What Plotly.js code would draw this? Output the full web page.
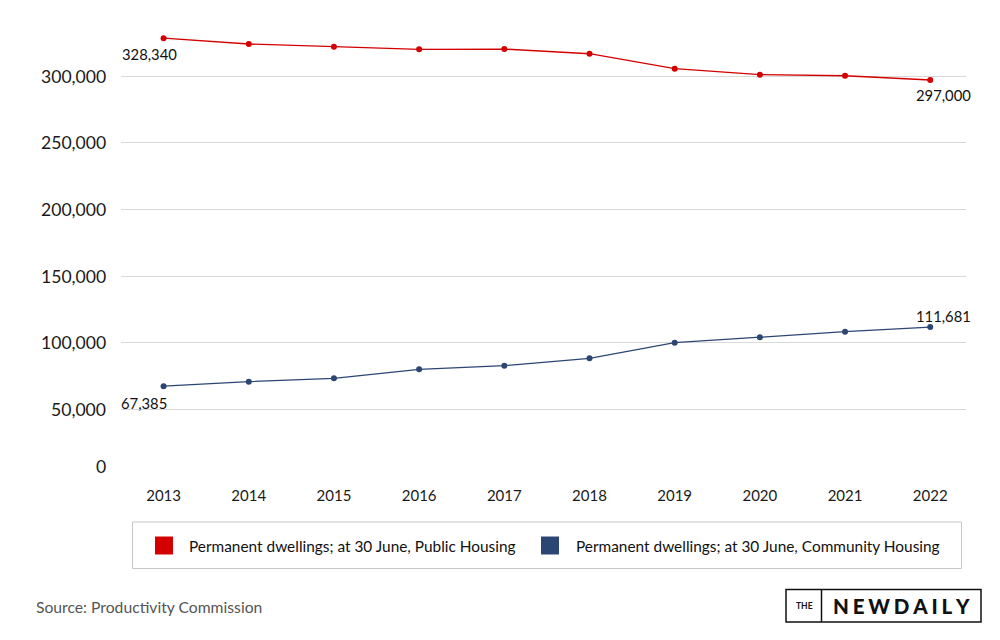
<!DOCTYPE html>
<html>
<head>
<meta charset="utf-8">
<script src="https://cdn.plot.ly/plotly-3.0.1.min.js"></script>
<style>html,body{margin:0;padding:0;background:#fff;}#chart{width:1000px;height:640px;}</style>
</head>
<body>
<div id="chart"></div>
<script>
const years = [2013, 2014, 2015, 2016, 2017, 2018, 2019, 2020, 2021, 2022];
const publicHousing = [328340, 324000, 322000, 320000, 320200, 316700, 305500, 301000, 300200, 297000];
const communityHousing = [67385, 70750, 73250, 80000, 82750, 88250, 100000, 104000, 108250, 111681];
const yTickVals = [0, 50000, 100000, 150000, 200000, 250000, 300000];
const yTickText = ['0', '50,000', '100,000', '150,000', '200,000', '250,000', '300,000'];
const seriesNames = ['Permanent dwellings; at 30 June, Public Housing', 'Permanent dwellings; at 30 June, Community Housing'];
const seriesColors = ['#d40000', '#2c4674'];
const sourceText = 'Source: Productivity Commission';

const FONT = 'Lato, "Open Sans", sans-serif';

const traces = [
  {x: years, y: publicHousing, type: 'scatter', mode: 'lines+markers', name: seriesNames[0],
   line: {color: seriesColors[0], width: 1.3}, marker: {color: seriesColors[0], size: 6}, showlegend: false, cliponaxis: false},
  {x: years, y: communityHousing, type: 'scatter', mode: 'lines+markers', name: seriesNames[1],
   line: {color: seriesColors[1], width: 1.3}, marker: {color: seriesColors[1], size: 6}, showlegend: false, cliponaxis: false}
];

const fmt = v => v.toLocaleString('en-US');
const annotations = [];
// y tick labels
yTickVals.forEach((v, i) => {
  annotations.push({xref: 'paper', yref: 'y', x: 0, y: v, xanchor: 'right', yanchor: 'middle',
    xshift: -13, yshift: v === 0 ? 10 : 0, showarrow: false, text: yTickText[i],
    font: {family: FONT, size: 17.6, color: '#1a1a1a'}});
});
// data labels at ends
const last = years.length - 1;
const lblFont = {family: FONT, size: 14.8, color: '#111'};
annotations.push({x: years[0], y: publicHousing[0], xref: 'x', yref: 'y', showarrow: false, text: fmt(publicHousing[0]),
  xshift: -14, yshift: -16, font: lblFont});
annotations.push({x: years[last], y: publicHousing[last], xref: 'x', yref: 'y', showarrow: false, text: fmt(publicHousing[last]),
  xshift: 13, yshift: -15, font: lblFont});
annotations.push({x: years[0], y: communityHousing[0], xref: 'x', yref: 'y', showarrow: false, text: fmt(communityHousing[0]),
  xshift: -20, yshift: -17, font: lblFont});
annotations.push({x: years[last], y: communityHousing[last], xref: 'x', yref: 'y', showarrow: false, text: fmt(communityHousing[last]),
  xshift: 13, yshift: 11, font: lblFont});

// pixel -> paper helpers (plot area: x 121..966, y 20..476)
const px = p => (p - 121) / 845;
const py = p => (476 - p) / 456;

// legend text
annotations.push({xref: 'paper', yref: 'paper', x: px(187), y: py(545.5), xanchor: 'left', yanchor: 'middle', showarrow: false,
  text: seriesNames[0], font: {family: FONT, size: 15.4, color: '#111'}});
annotations.push({xref: 'paper', yref: 'paper', x: px(574), y: py(545.5), xanchor: 'left', yanchor: 'middle', showarrow: false,
  text: seriesNames[1], font: {family: FONT, size: 15.4, color: '#111'}});
// source
annotations.push({xref: 'paper', yref: 'paper', x: px(34), y: py(606.5), xanchor: 'left', yanchor: 'middle', showarrow: false,
  text: sourceText, font: {family: FONT, size: 15.7, color: '#555'}});
// logo
annotations.push({xref: 'paper', yref: 'paper', x: px(804), y: py(605.5), xanchor: 'center', yanchor: 'middle', showarrow: false,
  text: 'THE', font: {family: FONT, size: 8.5, color: '#111', weight: 700}});
annotations.push({xref: 'paper', yref: 'paper', x: px(901.5), y: py(605.5), xanchor: 'center', yanchor: 'middle', showarrow: false,
  text: 'N\u2009\u200AE\u2009\u200AW\u2009\u200AD\u2009\u200AA\u2009\u200AI\u2009\u200AL\u2009\u200AY', font: {family: FONT, size: 20.5, color: '#111', weight: 900}});

const shapes = [
  {type: 'rect', xref: 'paper', yref: 'paper', x0: px(132.5), x1: px(961.5), y0: py(522), y1: py(568.5),
   line: {color: '#c8c8c8', width: 1}, fillcolor: 'rgba(0,0,0,0)'},
  {type: 'rect', xref: 'paper', yref: 'paper', x0: px(155), x1: px(173), y0: py(536.5), y1: py(554.5),
   line: {width: 0}, fillcolor: seriesColors[0]},
  {type: 'rect', xref: 'paper', yref: 'paper', x0: px(541), x1: px(559), y0: py(536.5), y1: py(554.5),
   line: {width: 0}, fillcolor: seriesColors[1]},
  {type: 'rect', xref: 'paper', yref: 'paper', x0: px(786), x1: px(981), y0: py(589.5), y1: py(622),
   line: {color: '#111', width: 1.5}, fillcolor: 'rgba(0,0,0,0)'},
  {type: 'line', xref: 'paper', yref: 'paper', x0: px(821.5), x1: px(821.5), y0: py(589.5), y1: py(622),
   line: {color: '#111', width: 1.5}}
];

const layout = {
  width: 1000, height: 640,
  margin: {l: 121, r: 34, t: 20, b: 164, pad: 0},
  paper_bgcolor: '#fff', plot_bgcolor: '#fff',
  font: {family: FONT, color: '#222'},
  showlegend: false,
  xaxis: {type: 'linear', range: [2012.5, 2022.42], tickvals: years, ticktext: years.map(String),
    showgrid: false, zeroline: false, showline: false, ticks: '', ticklabelstandoff: 9,
    tickfont: {family: FONT, size: 15, color: '#1a1a1a'}, fixedrange: true},
  yaxis: {range: [0, 342000], tickvals: yTickVals, showticklabels: false, showgrid: true,
    gridcolor: '#d9d9d9', gridwidth: 1, zeroline: false, showline: false, ticks: '', fixedrange: true},
  annotations: annotations,
  shapes: shapes
};

Plotly.newPlot('chart', traces, layout, {displayModeBar: false, staticPlot: true});
</script>
</body>
</html>
